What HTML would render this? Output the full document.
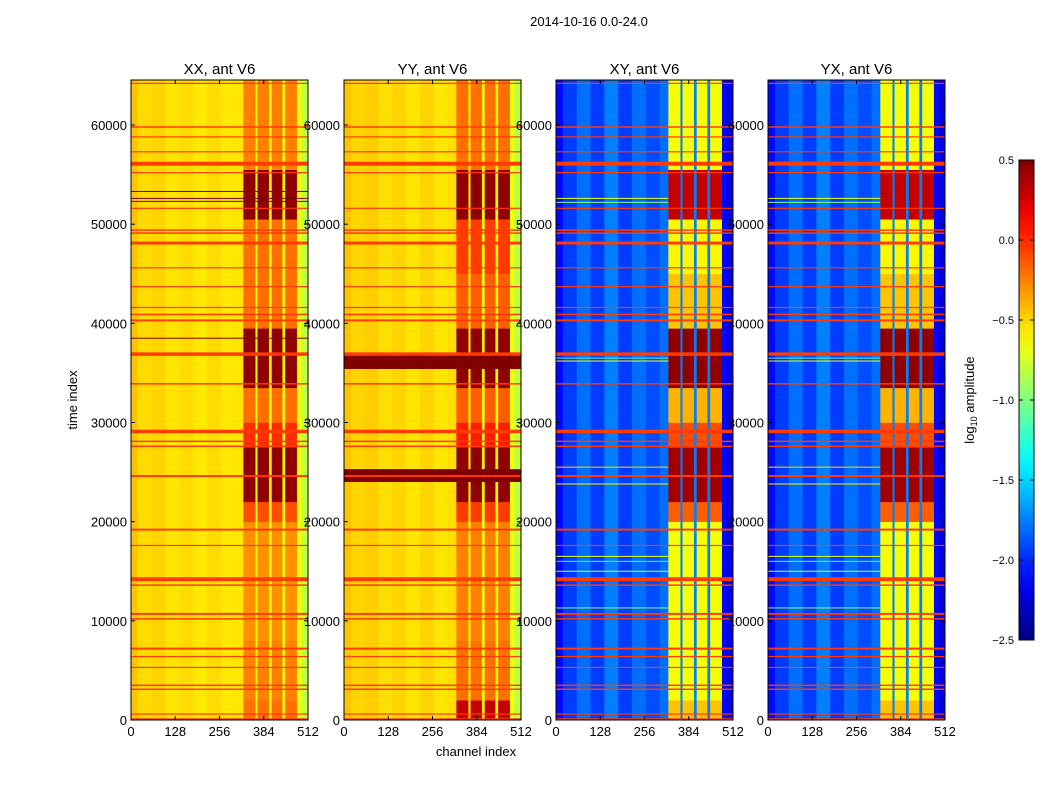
<!DOCTYPE html>
<html><head><meta charset="utf-8"><style>
body{margin:0;background:#fff;}
svg{display:block;font-family:"Liberation Sans","DejaVu Sans",sans-serif;}
</style></head><body>
<svg id="fig" width="1050" height="800" viewBox="0 0 1050 800" xmlns="http://www.w3.org/2000/svg">
<rect width="1050" height="800" fill="#fff"/>
<text x="589" y="26" font-size="13" text-anchor="middle">2014-10-16 0.0-24.0</text>
<text x="476" y="756" font-size="13" text-anchor="middle">channel index</text>
<text x="77" y="400" font-size="13" text-anchor="middle" transform="rotate(-90 77 400)">time index</text>
<g id="panels"></g>
<g id="cbar"></g>
</svg>
<script>
const panelTitles = ["XX, ant V6","YY, ant V6","XY, ant V6","YX, ant V6"];
const xTicks = [0,128,256,384,512];
const yTicks = [0,10000,20000,30000,40000,50000,60000];
const cbarTicks = [0.5,0.0,-0.5,-1.0,-1.5,-2.0,-2.5];
const colEdges = [0,20,60,100,140,180,220,260,300,325,480,492,512];
const colXX = [-0.45,-0.52,-0.5,-0.55,-0.52,-0.56,-0.52,-0.56,-0.55,-0.6,-0.65,-0.8];
const colYY = [-0.45,-0.5,-0.48,-0.53,-0.5,-0.55,-0.5,-0.55,-0.53,-0.6,-0.65,-0.8];
const colXY = [-2.1,-1.95,-1.8,-1.95,-1.75,-1.95,-1.8,-1.9,-1.8,-1.75,-2.1,-2.2];
const tiles = [[325,360],[366,399],[407,438],[446,480]];
const blockT0 = [0,2000,8000,20000,22000,27500,30000,33500,39500,45000,50500,55500];
const blockT1 = [2000,8000,20000,22000,27500,30000,33500,39500,45000,50500,55500,64540];
const rfiXX = [-0.2,-0.25,-0.3,-0.1,0.45,0.0,-0.2,0.45,-0.2,-0.2,0.45,-0.25];
const rfiYY = [0.3,-0.2,-0.25,-0.05,0.45,0.05,-0.15,0.45,-0.15,-0.05,0.45,-0.2];
const rfiXY = [-0.45,-0.65,-0.65,-0.15,0.4,-0.1,-0.4,0.45,-0.45,-0.6,0.3,-0.65];
const flagTimes = [100,600,3100,3500,5300,6400,7200,10200,10700,13600,14200,17600,19200,24600,27600,28100,29100,33900,36900,40300,40900,41600,43700,45600,48100,49100,49400,51600,55200,56100,57300,58800,59800,64200];
const flagWidth = [150,100,150,150,100,100,200,150,200,150,400,100,200,200,150,150,350,150,350,200,150,100,100,100,300,150,150,100,100,400,100,100,150,100];
const flagValue = -0.05;
const darkTimes = [53300,52600,52300,38500];
const yyBandT0 = [35400,24000];
const yyBandT1 = [36800,25300];
const crossLineTimes = [16500,16000,15000,11300,23800,25500,36200,36500,52600,52200];
const crossLineValue = [-0.7,-1.2,-0.8,-1.0,-0.6,-0.5,-0.6,-1.1,-0.7,-1.0];

const lefts=[131,344,556,768], PW=177, TOP=80, BOT=720, TMAX=64540;
const NS="http://www.w3.org/2000/svg";
function jet(v){const t=Math.max(0,Math.min(1,(v+2.5)/3));const c=x=>Math.round(255*Math.max(0,Math.min(1,x)));
 return `rgb(${c(1.5-Math.abs(4*t-3))},${c(1.5-Math.abs(4*t-2))},${c(1.5-Math.abs(4*t-1))})`;}
function el(tag,attrs,parent){const e=document.createElementNS(NS,tag);for(const k in attrs)e.setAttribute(k,attrs[k]);parent.appendChild(e);return e;}
function yS(t){return BOT-t/TMAX*(BOT-TOP);}
const G=document.getElementById('panels');
const colSets=[colXX,colYY,colXY,colXY], rfiSets=[rfiXX,rfiYY,rfiXY,rfiXY];
for(let p=0;p<4;p++){
 const L=lefts[p]; const xS=c=>L+c/512*PW;
 const g=el('g',{},G);
 
 
 const img=el('g',{},g);
 
 
 const cols=colSets[p];
 for(let i=0;i<cols.length;i++){
  const r=el('rect',{x:xS(colEdges[i]),y:TOP,width:xS(colEdges[i+1])-xS(colEdges[i])+0.3,height:BOT-TOP,fill:jet(cols[i])},img);
  
  
 }
 const rfi=rfiSets[p];
 for(let b=0;b<blockT0.length;b++){
  for(const tl of tiles){
   const r=el('rect',{x:xS(tl[0]),y:yS(blockT1[b]),width:xS(tl[1])-xS(tl[0]),height:yS(blockT0[b])-yS(blockT1[b])+0.3,fill:jet(rfi[b])},img);
   
   
  }
 }
 if(p>=2){
  for(let i=0;i<crossLineTimes.length;i++){
   const r=el('rect',{x:L,y:yS(crossLineTimes[i])-0.5,width:xS(325)-L,height:1,fill:jet(crossLineValue[i])},img);
   
   
  }
 }
 if(p===1){
  for(let i=0;i<yyBandT0.length;i++){
   const r=el('rect',{x:L,y:yS(yyBandT1[i]),width:PW,height:yS(yyBandT0[i])-yS(yyBandT1[i]),fill:jet(0.5)},img);
   
   
  }
 }
 if(p===0){
  for(const t of darkTimes){
   const r=el('rect',{x:L,y:yS(t)-0.5,width:PW,height:1,fill:jet(0.5)},img);
   
   
  }
 }
 for(let i=0;i<flagTimes.length;i++){
  const h=Math.max(1.2,yS(flagTimes[i]-flagWidth[i]/2)-yS(flagTimes[i]+flagWidth[i]/2));
  const r=el('rect',{x:L,y:yS(flagTimes[i])-h/2,width:PW,height:h,fill:jet(flagValue)},img);
  
  
 }
 const fr=el('rect',{x:L,y:TOP,width:PW,height:BOT-TOP,fill:'none',stroke:'#000','stroke-width':1},g);
 
 
 const tt=el('text',{x:L+PW/2,y:74,'font-size':15,'text-anchor':'middle'},g);tt.textContent=panelTitles[p];
 
 
 for(const v of xTicks){const x=xS(v);
  el('line',{x1:x,x2:x,y1:BOT,y2:BOT-4,stroke:'#000'},g);el('line',{x1:x,x2:x,y1:TOP,y2:TOP+4,stroke:'#000'},g);
  const t=el('text',{x:x,y:BOT+16,'font-size':13,'text-anchor':'middle'},g);t.textContent=v;
  
  }
 for(const v of yTicks){const y=yS(v);
  el('line',{x1:L,x2:L+4,y1:y,y2:y,stroke:'#000'},g);el('line',{x1:L+PW,x2:L+PW-4,y1:y,y2:y,stroke:'#000'},g);
  const t=el('text',{x:L-4,y:y+5,'font-size':13,'text-anchor':'end'},g);t.textContent=v;
  
  }
}
const C=document.getElementById('cbar');


const CX=1019,CW=15,CT=160,CB=640;
const defs=el('defs',{},C);const lg=el('linearGradient',{id:'jetg',x1:0,y1:1,x2:0,y2:0},defs);
for(let i=0;i<=20;i++){const v=-2.5+3*i/20;el('stop',{offset:i/20,'stop-color':jet(v)},lg);}
el('rect',{x:CX,y:CT,width:CW,height:CB-CT,fill:'url(#jetg)',stroke:'#000','stroke-width':1},C);
for(const v of cbarTicks){const y=CB-(v+2.5)/3*(CB-CT);
 el('line',{x1:CX,x2:CX+4,y1:y,y2:y,stroke:'#000'},C);el('line',{x1:CX+CW,x2:CX+CW-4,y1:y,y2:y,stroke:'#000'},C);
 const t=el('text',{x:CX-5,y:y+4,'font-size':11,'text-anchor':'end'},C);t.textContent=v.toFixed(1).replace('-','\u2212');
 
 }
const ct=el('text',{x:974,y:400,'font-size':13,'text-anchor':'middle',transform:'rotate(-90 974 400)'},C);
ct.innerHTML='log<tspan font-size="9" dy="3">10</tspan><tspan dy="-3"> amplitude</tspan>';


</script>
</body></html>
